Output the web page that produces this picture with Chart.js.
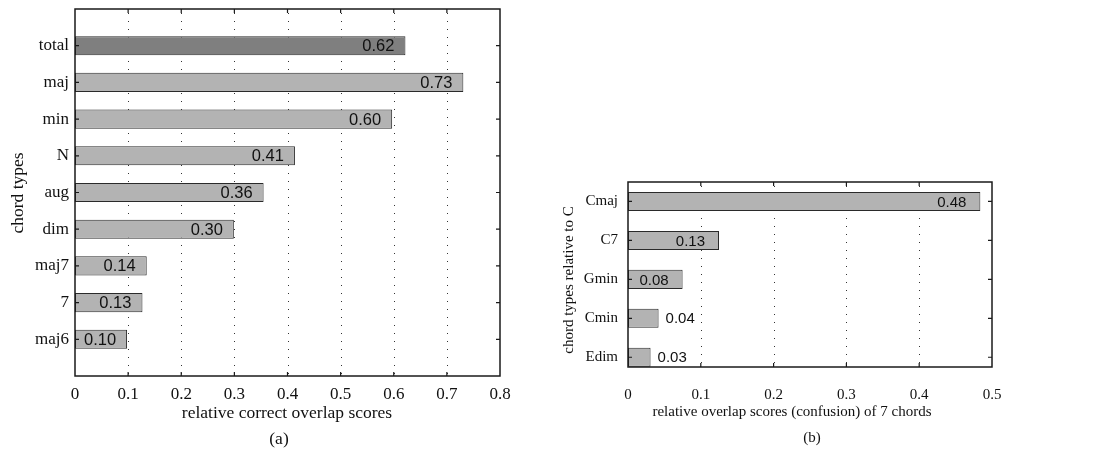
<!DOCTYPE html>
<html>
<head>
<meta charset="utf-8">
<script src="https://cdn.jsdelivr.net/npm/chart.js@4.4.0/dist/chart.umd.min.js"></script>
<style>
  html, body { margin: 0; padding: 0; background: #fff; }
  #wrap { position: relative; width: 1098px; height: 451px; }
  canvas { position: absolute; top: 0; }
  #chartA { left: 0; }
  #chartB { left: 520px; }
</style>
</head>
<body>
<div id="wrap">
  <canvas id="chartA" width="520" height="451"></canvas>
  <canvas id="chartB" width="578" height="451"></canvas>
</div>
<script>
// panel (a): correct overlap per chord type
const chordTypes = ['total', 'maj', 'min', 'N', 'aug', 'dim', 'maj7', '7', 'maj6'];
const overlapScores = [0.622, 0.731, 0.597, 0.414, 0.355, 0.299, 0.135, 0.127, 0.098];
const overlapLabels = ['0.62', '0.73', '0.60', '0.41', '0.36', '0.30', '0.14', '0.13', '0.10'];
const xTicksA = [0, 0.1, 0.2, 0.3, 0.4, 0.5, 0.6, 0.7, 0.8];

// panel (b): confusion of the 7 chords relative to C
const chordsRelC = ['Cmaj', 'C7', 'Gmin', 'Cmin', 'Edim'];
const confusionScores = [0.484, 0.125, 0.075, 0.042, 0.031];
const confusionLabels = ['0.48', '0.13', '0.08', '0.04', '0.03'];
const xTicksB = [0, 0.1, 0.2, 0.3, 0.4, 0.5];

const SERIF = '"Liberation Serif", "Times New Roman", serif';
const SANS = '"Liberation Sans", Arial, sans-serif';
const INK = '#111';

// dotted grid, box, inward ticks, value labels and titles
const framePlugin = {
  id: 'frame',
  beforeDatasetsDraw(chart, args, o) {
    const { ctx, chartArea: a } = chart;
    const xs = chart.scales.x;
    ctx.save();
    ctx.strokeStyle = '#333';
    ctx.lineWidth = 1;
    ctx.setLineDash([1, 7]);
    o.xTicks.slice(1, -1).forEach(v => {
      const px = Math.round(xs.getPixelForValue(v)) + 0.5;
      ctx.beginPath();
      ctx.moveTo(px, a.top + 4);
      ctx.lineTo(px, a.bottom);
      ctx.stroke();
    });
    ctx.restore();
  },
  afterDraw(chart, args, o) {
    const { ctx, chartArea: a } = chart;
    const xs = chart.scales.x, ys = chart.scales.y;
    ctx.save();
    ctx.strokeStyle = '#1a1a1a';
    ctx.lineWidth = 1.5;
    ctx.strokeRect(a.left, a.top, a.right - a.left, a.bottom - a.top);
    ctx.lineWidth = 1.2;
    ctx.beginPath();
    o.xTicks.slice(1, -1).forEach(v => {
      const px = xs.getPixelForValue(v);
      ctx.moveTo(px, a.top); ctx.lineTo(px, a.top + 4);
      ctx.moveTo(px, a.bottom); ctx.lineTo(px, a.bottom - 4);
    });
    o.cats.forEach((c, i) => {
      const py = ys.getPixelForValue(i + 1);
      ctx.moveTo(a.left, py); ctx.lineTo(a.left + 4, py);
      ctx.moveTo(a.right, py); ctx.lineTo(a.right - 4, py);
    });
    ctx.stroke();

    // value labels on the bars
    ctx.fillStyle = INK;
    ctx.font = o.valueFont + 'px ' + SANS;
    ctx.textBaseline = 'middle';
    const bars = chart.getDatasetMeta(0).data;
    bars.forEach((bar, i) => {
      const txt = o.valueLabels[i];
      const w = ctx.measureText(txt).width;
      const len = bar.x - a.left;
      if (len > w + o.inGap + 4) {
        ctx.textAlign = 'right';
        ctx.fillText(txt, bar.x - o.inGap, bar.y + 1);
      } else {
        ctx.textAlign = 'left';
        ctx.fillText(txt, bar.x + 7, bar.y + 1);
      }
    });

    // axis titles and panel tag
    ctx.font = o.titleFont + 'px ' + SERIF;
    ctx.textAlign = 'center';
    ctx.fillText(o.xTitle.text, o.xTitle.x, o.xTitle.y);
    ctx.fillText(o.panel.text, o.panel.x, o.panel.y);
    ctx.translate(o.yTitle.x, o.yTitle.y);
    ctx.rotate(-Math.PI / 2);
    ctx.fillText(o.yTitle.text, 0, 0);
    ctx.restore();
  }
};

function makeChart(id, p) {
  const canvas = document.getElementById(id);
  const W = canvas.width, H = canvas.height;
  return new Chart(canvas, {
    type: 'bar',
    data: {
      datasets: [{
        data: p.values.map((v, i) => ({ x: v, y: i + 1 })),
        backgroundColor: p.colors,
        borderColor: '#2a2a2a',
        borderWidth: 1,
        borderSkipped: false,
        barPercentage: p.barPct,
        categoryPercentage: 1
      }]
    },
    options: {
      indexAxis: 'y',
      responsive: false,
      animation: false,
      layout: { padding: { top: p.area.top, right: W - p.area.right, left: 0, bottom: 0 } },
      plugins: {
        legend: { display: false },
        tooltip: { enabled: false },
        frame: {
          xTicks: p.xTicks, cats: p.cats, valueLabels: p.labels,
          valueFont: p.valueFont, inGap: p.inGap, titleFont: p.titleFont,
          xTitle: p.xTitle, yTitle: p.yTitle, panel: p.panel
        }
      },
      scales: {
        x: {
          type: 'linear',
          min: 0,
          max: p.xTicks[p.xTicks.length - 1],
          offset: false,
          afterBuildTicks: s => { s.ticks = p.xTicks.map(v => ({ value: v })); },
          afterFit: s => { s.height = H - p.area.bottom; s.paddingLeft = 0; s.paddingRight = 0; },
          grid: { display: false, drawTicks: false },
          border: { display: false },
          ticks: {
            padding: p.xTickPad,
            color: INK,
            maxRotation: 0,
            autoSkip: false,
            font: { family: SERIF, size: p.tickFont },
            callback: v => String(v)
          }
        },
        y: {
          type: 'linear',
          reverse: true,
          min: p.yRange[0],
          max: p.yRange[1],
          offset: false,
          afterBuildTicks: s => { s.ticks = p.cats.map((c, i) => ({ value: i + 1 })); },
          afterFit: s => { s.width = p.area.left; s.paddingTop = 0; s.paddingBottom = 0; },
          grid: { display: false, drawTicks: false },
          border: { display: false },
          ticks: {
            padding: p.yTickPad,
            color: INK,
            autoSkip: false,
            font: { family: SERIF, size: p.tickFont },
            callback: v => p.cats[v - 1] || ''
          }
        }
      }
    },
    plugins: [framePlugin]
  });
}

makeChart('chartA', {
  cats: chordTypes,
  values: overlapScores,
  labels: overlapLabels,
  colors: chordTypes.map((c, i) => i === 0 ? '#7f7f7f' : '#b3b3b3'),
  xTicks: xTicksA,
  yRange: [0, 10],
  area: { left: 75, right: 500, top: 9, bottom: 376 },
  barPct: 0.52,
  tickFont: 17,
  titleFont: 17.5,
  valueFont: 16.5,
  inGap: 11,
  xTickPad: 8,
  yTickPad: 6,
  xTitle: { text: 'relative correct overlap scores', x: 287, y: 413 },
  yTitle: { text: 'chord types', x: 18, y: 193 },
  panel: { text: '(a)', x: 279, y: 439 }
});

makeChart('chartB', {
  cats: chordsRelC,
  values: confusionScores,
  labels: confusionLabels,
  colors: '#b3b3b3',
  xTicks: xTicksB,
  yRange: [0.5, 5.25],
  area: { left: 108, right: 472, top: 182, bottom: 367 },
  barPct: 0.49,
  tickFont: 15,
  titleFont: 15,
  valueFont: 15,
  inGap: 14,
  xTickPad: 19,
  yTickPad: 10,
  xTitle: { text: 'relative overlap scores (confusion) of 7 chords', x: 272, y: 412 },
  yTitle: { text: 'chord types relative to C', x: 49, y: 280 },
  panel: { text: '(b)', x: 292, y: 438 }
});
</script>
</body>
</html>
